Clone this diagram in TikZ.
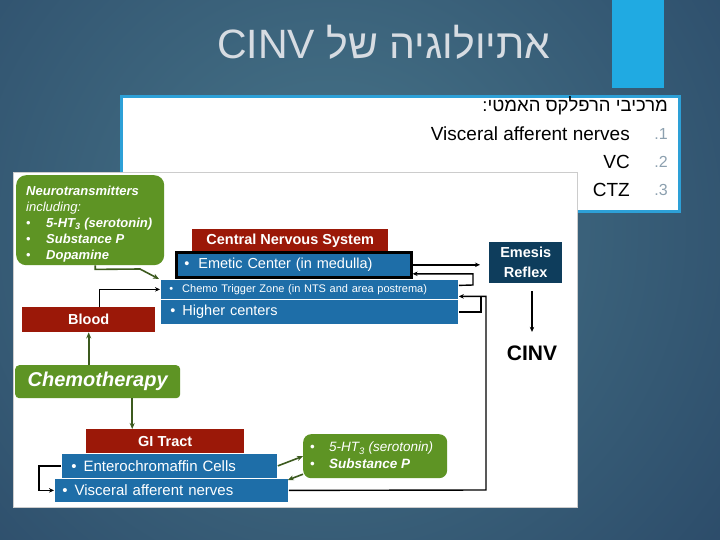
\documentclass[tikz,border=0pt]{standalone}
\usepackage{fontspec}
\setmainfont{Liberation Sans}
\newfontfamily\hebfont[Script=Hebrew]{Liberation Sans}
\TeXXeTstate=1
\usetikzlibrary{arrows.meta,calc}
\definecolor{bgin}{RGB}{72,118,138}
\definecolor{bgout}{RGB}{27,50,86}
\definecolor{barblue}{RGB}{32,170,226}
\definecolor{frameblue}{RGB}{45,160,215}
\definecolor{titlegray}{RGB}{215,220,226}
\definecolor{dred}{RGB}{155,24,8}
\definecolor{mblue}{RGB}{30,110,168}
\definecolor{lgreen}{RGB}{94,148,36}
\definecolor{navy}{RGB}{14,61,92}
\definecolor{dgreen}{RGB}{60,90,30}
\definecolor{numgray}{RGB}{140,160,175}
\begin{document}
\begin{tikzpicture}[x=1pt,y=-1pt,
 redbox/.style={fill=dred,text=white,font=\bfseries\fontsize{14.5}{16}\selectfont,inner sep=0pt,anchor=north west},
 bluebox/.style={fill=mblue,draw=white,line width=0.8pt,text=white,inner ysep=0pt,anchor=north west,align=left},
 greenbox/.style={fill=lgreen,text=white,rounded corners=8pt,inner sep=0pt,anchor=north west},
 bline/.style={draw=black,line width=1.4pt},
 barrow/.style={bline,-{Stealth[length=5pt,width=4.5pt]}},
 gline/.style={draw=dgreen,line width=1.6pt},
 garrow/.style={gline,-{Stealth[length=6pt,width=5pt]}},
 listtext/.style={anchor=east,inner sep=0pt,font=\fontsize{19}{21}\selectfont},
 numtext/.style={anchor=east,inner sep=0pt,text=numgray,font=\fontsize{16}{18}\selectfont},
]
\useasboundingbox (0,0) rectangle (720,540);
\begin{scope}
\clip (0,0) rectangle (720,540);
\shade[inner color=bgin,outer color=bgout] (330,230) circle (820);
\end{scope}
\fill[barblue] (612,0) rectangle (664,88);
\node[text=titlegray,inner sep=0pt,font=\hebfont\fontsize{41}{45}\selectfont] (title) at (384,42) {\beginR אתיולוגיה של \beginL CINV\endL\endR};

% text box
\node[draw=frameblue,line width=3pt,fill=white,minimum width=558pt,minimum height=115pt,inner sep=0pt,anchor=north west] (textbox) at (120,95) {};
\node[anchor=east,inner sep=0pt,font=\hebfont\fontsize{18.5}{21}\selectfont] (hdr) at (668,106) {\beginR מרכיבי הרפלקס האמטי:\endR};
\node[listtext] (l1) at (630,134) {Visceral afferent nerves};
\node[numtext] (n1) at (668,134) {.1};
\node[listtext] (l2) at (630,162) {VC};
\node[numtext] (n2) at (668,162) {.2};
\node[listtext] (l3) at (630,190) {CTZ};
\node[numtext] (n3) at (668,190) {.3};

% diagram panel
\node[fill=white,draw=gray!40,line width=0.6pt,minimum width=564pt,minimum height=335pt,inner sep=0pt,anchor=north west] (panel) at (13,172) {};

% neurotransmitters
\node[greenbox,rounded corners=10pt,minimum width=148pt,minimum height=90pt] (neuro) at (16,175) {};
\node[anchor=north west,align=left,inner sep=0pt,text=white,font=\bfseries\itshape\fontsize{13}{16}\selectfont] (neurotext) at (26,186)
 {Neurotransmitters\\ {\mdseries including:}\\
  \makebox[20pt][l]{\mdseries\upshape\textbullet}5-HT\textsubscript{3} (serotonin)\\
  \makebox[20pt][l]{\mdseries\upshape\textbullet}Substance P\\
  \makebox[20pt][l]{\mdseries\upshape\textbullet}Dopamine};

% CNS
\node[redbox,minimum width=196pt,minimum height=23pt] (cns) at (192,229) {Central Nervous System};
\node[bluebox,draw=black,line width=2.6pt,text width=219pt,inner xsep=8pt,minimum height=25pt,font=\fontsize{14.5}{16}\selectfont] (emetic) at (175,251) {\textbullet\hspace{9pt}Emetic Center (in medulla)};
\node[bluebox,text width=280pt,inner xsep=9pt,minimum height=20pt,font=\fontsize{11}{12}\selectfont] (ctz) at (160,279) {\textbullet\hspace{9pt}Chemo Trigger Zone (in NTS and area postrema)};
\node[bluebox,text width=278pt,inner xsep=10pt,minimum height=25pt,font=\fontsize{14.5}{16}\selectfont] (higher) at (160,299) {\textbullet\hspace{7pt}Higher centers};

% emesis / CINV
\node[fill=navy,text=white,align=center,inner sep=0pt,anchor=north west,minimum width=73pt,minimum height=41pt,font=\bfseries\fontsize{14.5}{20}\selectfont] (emesis) at (489,242) {Emesis\\Reflex};
\node[inner sep=0pt,font=\bfseries\fontsize{21}{24}\selectfont] (cinv) at (532,353) {CINV};

% blood, chemo
\node[redbox,minimum width=133pt,minimum height=25pt] (blood) at (22,307) {Blood};
\node[greenbox,rounded corners=4pt,minimum width=165pt,minimum height=33pt,font=\bfseries\itshape\fontsize{20}{22}\selectfont] (chemo) at (15,365) {Chemotherapy};

% GI
\node[redbox,minimum width=158pt,minimum height=24pt] (gi) at (86,429) {GI Tract};
\node[bluebox,text width=196pt,inner xsep=10pt,minimum height=25pt,font=\fontsize{15}{16}\selectfont] (entero) at (61,453) {\textbullet\hspace{7pt}Enterochromaffin Cells};
\node[bluebox,text width=218pt,inner xsep=8pt,minimum height=24pt,font=\fontsize{15}{16}\selectfont] (visc) at (54,478) {\textbullet\hspace{7pt}Visceral afferent nerves};

% small green
\node[greenbox,minimum width=144pt,minimum height=44pt] (sg) at (303,434) {};
\node[anchor=north west,align=left,inner sep=0pt,text=white,font=\itshape\fontsize{13.5}{17}\selectfont] (sgtext) at (310,442)
 {\makebox[19pt][l]{\upshape\textbullet}5-HT\textsubscript{3} (serotonin)\\
  \makebox[19pt][l]{\upshape\textbullet}\textbf{Substance P}};

% connectors
\draw[gline,-{Stealth[length=6pt,width=5pt]}] ([xshift=5pt]neuro.south) -- ++(0,4) -- (140,269) -- ([xshift=-1pt]ctz.north west);
\draw[barrow] ([xshift=10.5pt]blood.north) |- (ctz.west);
\draw[garrow] (chemo.north -| blood.south) -- (blood.south);
\draw[garrow] ([xshift=34.5pt]chemo.south) -- ([xshift=34.5pt]chemo.south |- gi.north);
\draw[barrow] (entero.west) -- ++(-22,0) |- (visc.west);
\draw[garrow] (entero.east) -- (sg.west);
\draw[garrow] ([yshift=-18pt]sg.west) -- ([shift={(-1pt,-2pt)}]visc.north east);
\draw[barrow] (visc.east) -- (486,490) |- ([yshift=-7pt]ctz.east);
\draw[bline] (higher.east) -| (481,296);
\draw[barrow] ([yshift=4pt]ctz.east) -- (473,285) |- ([yshift=-9pt]emetic.east);
\draw[barrow,shorten >=9pt] (emetic.east) -- (emetic.east -| emesis.west);
\draw[barrow] ([yshift=-8pt]emesis.south -| cinv.north) -- ([yshift=13.5pt]cinv.north);
\end{tikzpicture}
\end{document}
